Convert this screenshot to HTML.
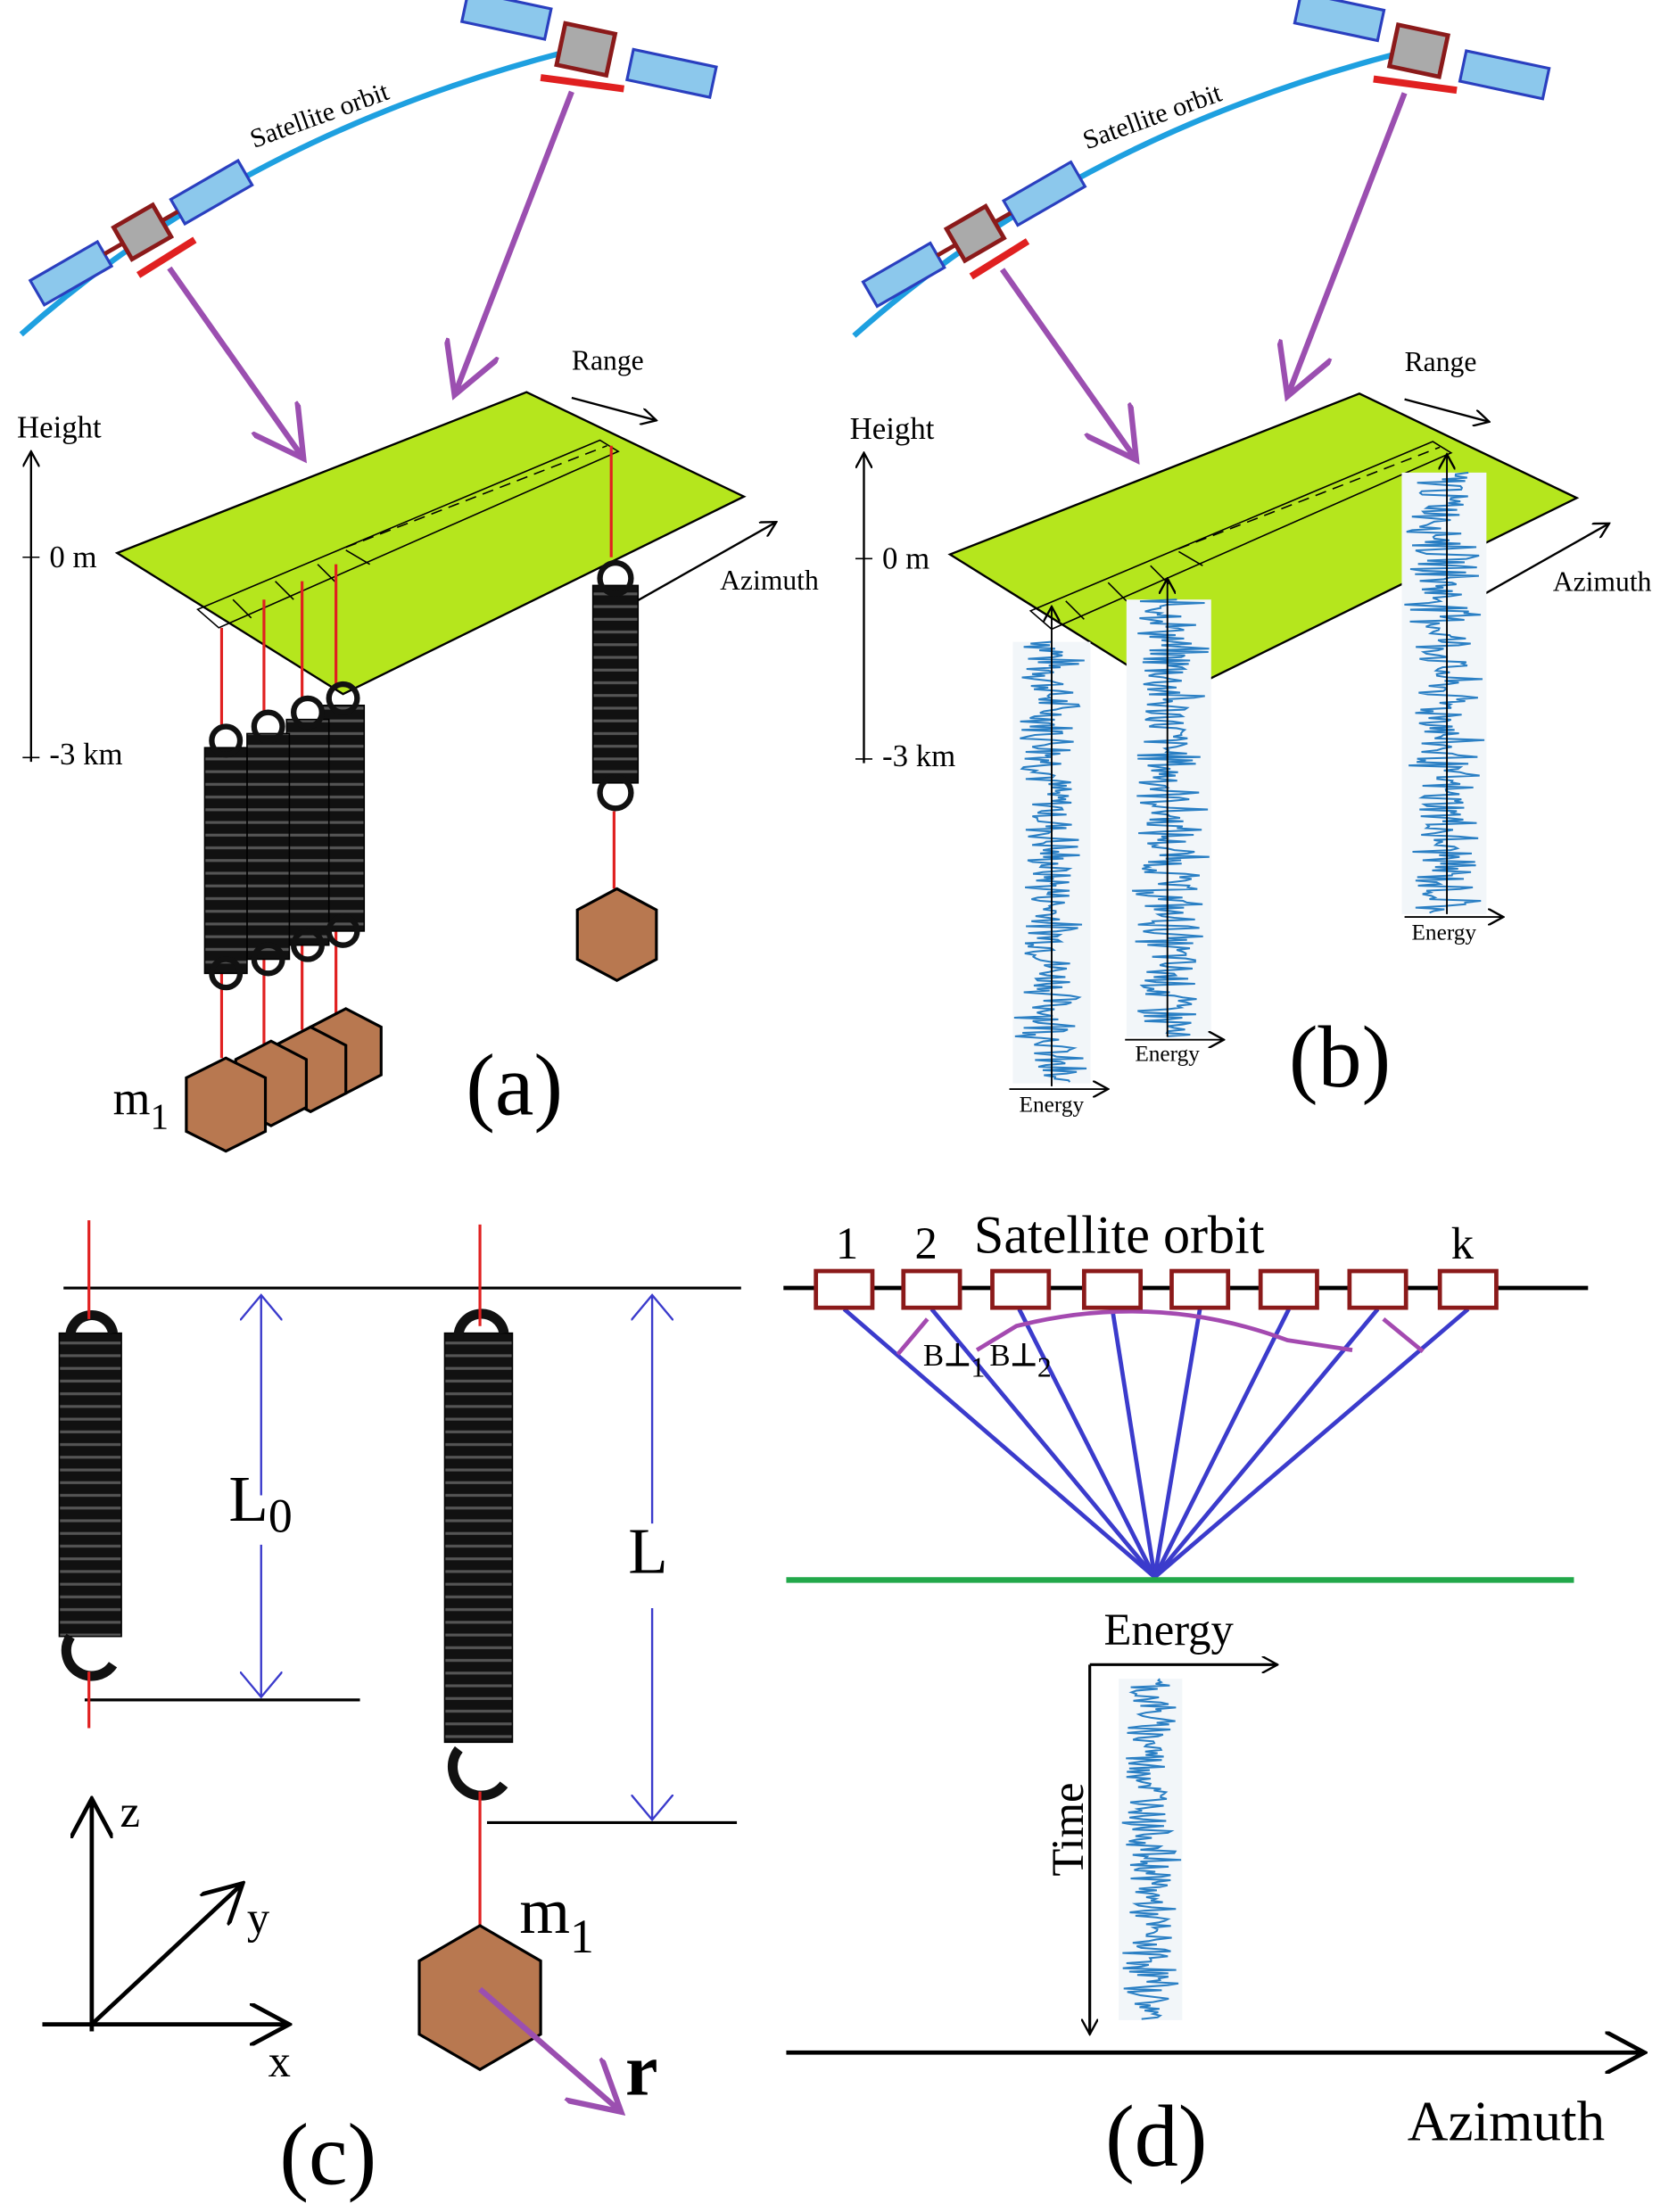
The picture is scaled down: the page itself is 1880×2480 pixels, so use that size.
<!DOCTYPE html>
<html><head><meta charset="utf-8"><style>
html,body{margin:0;padding:0;background:#fff}
svg{display:block}
text{font-family:"Liberation Serif",serif;fill:#000}
</style></head><body>
<svg id="s" width="1880" height="2480" viewBox="0 0 1188 1568" preserveAspectRatio="none" xmlns="http://www.w3.org/2000/svg">
<defs>
<pattern id="coil" width="40" height="9" patternUnits="userSpaceOnUse">
<rect width="40" height="9" fill="#111"/><rect y="6" width="40" height="2" fill="#555"/>
</pattern>
<marker id="ah" markerWidth="12" markerHeight="12" refX="11" refY="6" orient="auto" markerUnits="userSpaceOnUse"><path d="M0,0 L11,6 L0,12" fill="none" stroke="#000" stroke-width="1.5"/></marker>
<marker id="ahb" markerWidth="20" markerHeight="30" refX="18" refY="15" orient="auto" markerUnits="userSpaceOnUse"><path d="M0,0 L18,15 L0,30" fill="none" stroke="#3b3bcc" stroke-width="1.5"/></marker>
<marker id="ahp" markerWidth="40" markerHeight="40" refX="36" refY="20" orient="auto" markerUnits="userSpaceOnUse"><path d="M0,0 L36,20 L0,40" fill="none" stroke="#9b4fb0" stroke-width="4"/></marker>
<marker id="ahk" markerWidth="30" markerHeight="30" refX="28" refY="15" orient="auto" markerUnits="userSpaceOnUse"><path d="M0,0 L28,15 L0,30" fill="none" stroke="#000" stroke-width="3"/></marker>
<g id="top">
<path d="M15,237 Q180,90 420,32" fill="none" stroke="#1ea0e0" stroke-width="4"/>
<g transform="rotate(-30 100 165)">
<rect x="85" y="152" width="32" height="26" fill="#aaa" stroke="#8b1a1a" stroke-width="3"/>
<rect x="15" y="155" width="55" height="20" fill="#8cc8ec" stroke="#2a3fbf" stroke-width="2"/>
<rect x="130" y="155" width="55" height="20" fill="#8cc8ec" stroke="#2a3fbf" stroke-width="2"/>
<line x1="70" y1="165" x2="85" y2="165" stroke="#8b1a1a" stroke-width="3"/><line x1="117" y1="165" x2="130" y2="165" stroke="#8b1a1a" stroke-width="3"/>
</g>
<line x1="98" y1="195" x2="138" y2="170" stroke="#e02020" stroke-width="5"/>
<text x="180" y="105" font-size="19" transform="rotate(-20 180 105)">Satellite orbit</text>
<g transform="rotate(12 415 35)">
<rect x="397" y="20" width="36" height="30" fill="#aaa" stroke="#8b1a1a" stroke-width="3"/>
<rect x="325" y="12" width="60" height="22" fill="#8cc8ec" stroke="#2a3fbf" stroke-width="2"/>
<rect x="448" y="28" width="60" height="22" fill="#8cc8ec" stroke="#2a3fbf" stroke-width="2"/>
</g>
<line x1="383" y1="55" x2="442" y2="63" stroke="#e02020" stroke-width="5"/>
<line x1="120" y1="190" x2="215" y2="325" stroke="#9b4fb0" stroke-width="4" marker-end="url(#ahp)"/>
<line x1="405" y1="65" x2="322" y2="280" stroke="#9b4fb0" stroke-width="4" marker-end="url(#ahp)"/>
<polygon points="83,392 373,278 527,352 243,492" fill="#b5e61d" stroke="#000" stroke-width="1.5"/>
<polygon points="140,432 425,312 438,320 155,445" fill="none" stroke="#000" stroke-width="1"/>
<line x1="245" y1="388" x2="430" y2="316" stroke="#000" stroke-dasharray="8,5"/>
<line x1="165" y1="425" x2="178" y2="438" stroke="#000"/><line x1="195" y1="412" x2="208" y2="425" stroke="#000"/><line x1="225" y1="400" x2="238" y2="413" stroke="#000"/><line x1="245" y1="390" x2="262" y2="400" stroke="#000"/>
<line x1="22" y1="540" x2="22" y2="320" stroke="#000" stroke-width="1.5" marker-end="url(#ah)"/>
<line x1="16" y1="395" x2="28" y2="395" stroke="#000"/><line x1="16" y1="537" x2="28" y2="537" stroke="#000"/>
<text x="12" y="310" font-size="22">Height</text>
<text x="35" y="402" font-size="22">0 m</text>
<text x="35" y="542" font-size="22">-3 km</text>
<line x1="405" y1="282" x2="465" y2="298" stroke="#000" stroke-width="1.5" marker-end="url(#ah)"/>
<text x="405" y="262" font-size="20">Range</text>
<line x1="437" y1="434" x2="550" y2="370" stroke="#000" stroke-width="1.5" marker-end="url(#ah)"/>
<text x="510" y="418" font-size="20">Azimuth</text>
</g>
</defs>

<use href="#top"/>
<g stroke="#e02020" stroke-width="2">
<line x1="157" y1="445" x2="157" y2="515"/><line x1="187" y1="425" x2="187" y2="505"/><line x1="214" y1="412" x2="214" y2="495"/><line x1="238" y1="400" x2="238" y2="485"/>
<line x1="433" y1="316" x2="433" y2="395"/><line x1="435" y1="575" x2="435" y2="630"/>
<line x1="157" y1="690" x2="157" y2="750"/><line x1="187" y1="680" x2="187" y2="740"/><line x1="214" y1="670" x2="214" y2="730"/><line x1="238" y1="660" x2="238" y2="720"/>
</g>
<g fill="url(#coil)" stroke="#000">
<rect x="228" y="500" width="30" height="160"/><rect x="203" y="510" width="30" height="160"/><rect x="175" y="520" width="30" height="160"/><rect x="145" y="530" width="30" height="160"/>
<rect x="420" y="415" width="32" height="140"/>
</g>
<g fill="none" stroke="#111" stroke-width="4">
<circle cx="160" cy="525" r="10"/><circle cx="160" cy="690" r="10"/><circle cx="190" cy="515" r="10"/><circle cx="190" cy="680" r="10"/><circle cx="218" cy="505" r="10"/><circle cx="218" cy="670" r="10"/><circle cx="243" cy="495" r="10"/><circle cx="243" cy="660" r="10"/>
<circle cx="436" cy="410" r="11"/><circle cx="436" cy="562" r="11"/>
</g>
<g fill="#b87850" stroke="#000" stroke-width="2">
<polygon points="245,715 270,728 270,762 245,775 220,762 220,728"/>
<polygon points="220,728 245,741 245,775 220,788 195,775 195,741"/>
<polygon points="192,738 217,751 217,785 192,798 167,785 167,751"/>
<polygon points="160,750 188,764 188,802 160,816 132,802 132,764"/>
<polygon points="437,630 465,645 465,680 437,695 409,680 409,645"/>
</g>
<text x="80" y="790" font-size="34">m<tspan font-size="26" dy="10">1</tspan></text>
<text x="330" y="790" font-size="62">(a)</text>

<g transform="translate(590,1)"><use href="#top"/></g>
<g id="sigs"></g>
<g stroke="#000" stroke-width="1.2">
<line x1="745" y1="770" x2="745" y2="430" marker-end="url(#ah)"/>
<line x1="827" y1="735" x2="827" y2="410" marker-end="url(#ah)"/>
<line x1="1025" y1="648" x2="1025" y2="322" marker-end="url(#ah)"/>
<line x1="715" y1="772" x2="785" y2="772" marker-end="url(#ah)"/>
<line x1="797" y1="737" x2="867" y2="737" marker-end="url(#ah)"/>
<line x1="995" y1="650" x2="1065" y2="650" marker-end="url(#ah)"/>
</g>
<text x="722" y="788" font-size="16">Energy</text>
<text x="804" y="752" font-size="16">Energy</text>
<text x="1000" y="666" font-size="16">Energy</text>
<text x="913" y="770" font-size="62">(b)</text>

<line x1="45" y1="913" x2="525" y2="913" stroke="#000" stroke-width="2"/>
<line x1="60" y1="1205" x2="255" y2="1205" stroke="#000" stroke-width="2"/>
<line x1="345" y1="1292" x2="522" y2="1292" stroke="#000" stroke-width="2"/>
<rect x="42" y="945" width="44" height="215" fill="url(#coil)" stroke="#000"/>
<rect x="315" y="945" width="48" height="290" fill="url(#coil)" stroke="#000"/>
<g fill="none" stroke="#111" stroke-width="7">
<path d="M50,950 A14,14 0 1 1 80,945"/><path d="M50,1160 A14,14 0 1 0 80,1180"/>
<path d="M325,950 A16,16 0 1 1 357,945"/><path d="M325,1240 A16,16 0 1 0 357,1265"/>
</g>
<g stroke="#e02020" stroke-width="2">
<line x1="63" y1="865" x2="63" y2="935"/><line x1="63" y1="1185" x2="63" y2="1225"/>
<line x1="340" y1="868" x2="340" y2="940"/><line x1="340" y1="1270" x2="340" y2="1368"/>
</g>
<line x1="185" y1="1060" x2="185" y2="918" stroke="#3b3bcc" stroke-width="1.5" marker-end="url(#ahb)"/>
<line x1="185" y1="1095" x2="185" y2="1203" stroke="#3b3bcc" stroke-width="1.5" marker-end="url(#ahb)"/>
<line x1="462" y1="1080" x2="462" y2="918" stroke="#3b3bcc" stroke-width="1.5" marker-end="url(#ahb)"/>
<line x1="462" y1="1140" x2="462" y2="1290" stroke="#3b3bcc" stroke-width="1.5" marker-end="url(#ahb)"/>
<text x="162" y="1078" font-size="46">L<tspan font-size="34" dy="8">0</tspan></text>
<text x="445" y="1115" font-size="46">L</text>
<polygon points="340,1365 383,1390 383,1442 340,1467 297,1442 297,1390" fill="#b87850" stroke="#000" stroke-width="2"/>
<line x1="340" y1="1410" x2="440" y2="1497" stroke="#9b4fb0" stroke-width="4" marker-end="url(#ahp)"/>
<text x="368" y="1370" font-size="46">m<tspan font-size="34" dy="14">1</tspan></text>
<text x="443" y="1485" font-size="52" font-weight="bold">r</text>
<line x1="65" y1="1440" x2="65" y2="1275" stroke="#000" stroke-width="3" marker-end="url(#ahk)"/>
<line x1="30" y1="1435" x2="205" y2="1435" stroke="#000" stroke-width="3" marker-end="url(#ahk)"/>
<line x1="65" y1="1435" x2="172" y2="1335" stroke="#000" stroke-width="3" marker-end="url(#ahk)"/>
<text x="85" y="1295" font-size="32">z</text>
<text x="175" y="1370" font-size="32">y</text>
<text x="190" y="1472" font-size="32">x</text>
<text x="198" y="1548" font-size="62">(c)</text>

<line x1="555" y1="913" x2="1125" y2="913" stroke="#000" stroke-width="3"/>
<g stroke="#3b3bcc" stroke-width="3">
<line x1="598" y1="928" x2="818" y2="1118"/><line x1="660" y1="928" x2="818" y2="1118"/><line x1="722" y1="928" x2="818" y2="1118"/><line x1="788" y1="928" x2="818" y2="1118"/><line x1="850" y1="928" x2="818" y2="1118"/><line x1="913" y1="928" x2="818" y2="1118"/><line x1="976" y1="928" x2="818" y2="1118"/><line x1="1040" y1="928" x2="818" y2="1118"/>
</g>
<path d="M636,960 L657,935 M692,957 L720,940 Q818,915 912,950 L958,957 M980,935 L1008,958" fill="none" stroke="#a44ab0" stroke-width="3"/>
<g fill="#fff" stroke="#8b1a1a" stroke-width="3">
<rect x="578" y="901" width="40" height="26"/><rect x="640" y="901" width="40" height="26"/><rect x="703" y="901" width="40" height="26"/><rect x="768" y="901" width="40" height="26"/><rect x="830" y="901" width="40" height="26"/><rect x="893" y="901" width="40" height="26"/><rect x="956" y="901" width="40" height="26"/><rect x="1020" y="901" width="40" height="26"/>
</g>
<text x="592" y="892" font-size="32">1</text><text x="648" y="892" font-size="32">2</text>
<text x="690" y="888" font-size="38">Satellite orbit</text><text x="1028" y="892" font-size="32">k</text>
<text x="654" y="968" font-size="22">B<tspan font-weight="bold">⊥</tspan><tspan dy="8" font-size="20">1</tspan></text>
<text x="701" y="968" font-size="22">B<tspan font-weight="bold">⊥</tspan><tspan dy="8" font-size="20">2</tspan></text>
<line x1="557" y1="1120" x2="1115" y2="1120" stroke="#22a84a" stroke-width="4"/>
<line x1="772" y1="1180" x2="772" y2="1442" stroke="#000" stroke-width="2" marker-end="url(#ah)"/>
<line x1="772" y1="1180" x2="905" y2="1180" stroke="#000" stroke-width="2" marker-end="url(#ah)"/>
<text x="782" y="1166" font-size="32">Energy</text>
<text x="0" y="0" font-size="32" transform="translate(767,1330) rotate(-90)">Time</text>
<line x1="557" y1="1455" x2="1165" y2="1455" stroke="#000" stroke-width="3" marker-end="url(#ahk)"/>
<text x="997" y="1517" font-size="40">Azimuth</text>
<text x="783" y="1535" font-size="62">(d)</text>
</svg>
<script>
(function(){
var seed=7;function r(){seed=(seed*9301+49297)%233280;return seed/233280-0.5;}
var g=document.getElementById('sigs'),ns='http://www.w3.org/2000/svg';
function sig(cx,y0,y1,amp){
var b=document.createElementNS(ns,'rect');b.setAttribute('x',cx-amp/2);b.setAttribute('y',y0);b.setAttribute('width',amp);b.setAttribute('height',y1-y0);b.setAttribute('fill','#f2f6f9');g.appendChild(b);
var p=[];for(var y=y0;y<=y1;y+=1.2){var a=r();p.push((cx+a*amp*(0.4+0.6*Math.abs(r())*2))+','+y);}
var e=document.createElementNS(ns,'polyline');e.setAttribute('points',p.join(' '));e.setAttribute('fill','none');e.setAttribute('stroke','#2a7fc4');e.setAttribute('stroke-width','1.3');g.appendChild(e);}
sig(745,455,768,55);sig(828,425,735,60);sig(1023,335,648,60);sig(815,1190,1432,45);
})();
</script>
</body></html>
